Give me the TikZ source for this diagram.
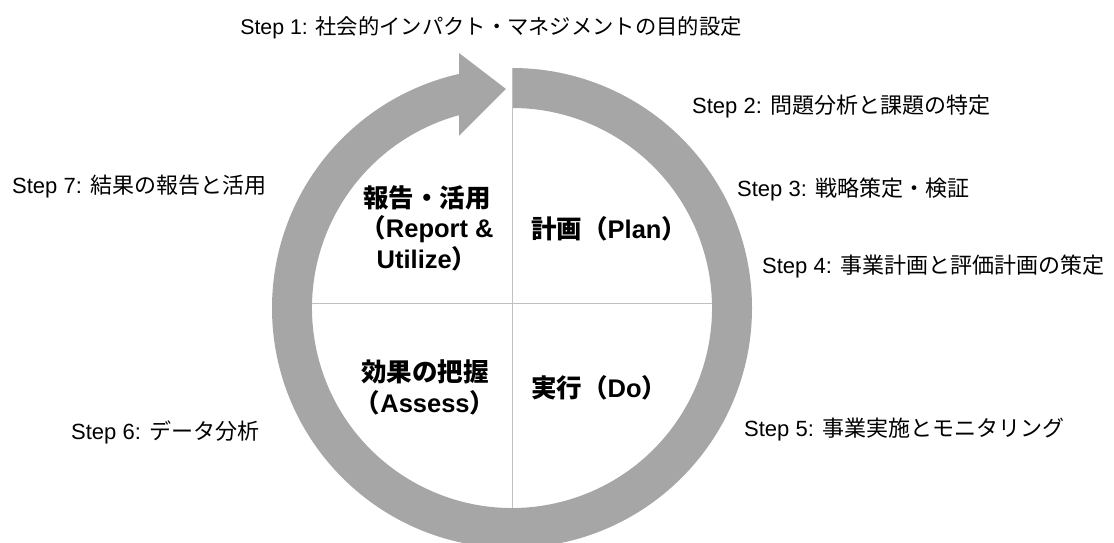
\documentclass[tikz,border=0pt]{standalone}
\usepackage{fontspec}
\setmainfont{Liberation Sans}
\newfontfamily\jp{Noto Sans CJK JP}
\usetikzlibrary{calc}
\definecolor{ringgray}{HTML}{A6A6A6}
\definecolor{divgray}{HTML}{C0C0C0}
\begin{document}
\begin{tikzpicture}[x=1pt,y=1pt,
  steplabel/.style={anchor=west, inner sep=0pt, font=\fontsize{22}{26}\selectfont},
  phase/.style={inner sep=0pt, align=center, font=\fontsize{25.5}{30.5}\selectfont\bfseries},
  divider/.style={draw=divgray, line width=1pt},
]
\useasboundingbox (0,0) rectangle (1114,543);
\coordinate (C) at (512,235);
\coordinate (vtop) at (512,475);
\coordinate (vbot) at (512,35);
\coordinate (hleft) at (312,239);
\coordinate (hright) at (712,239);

% cycle arrow ring
\fill[ringgray] (C) ++(90:240) arc[start angle=90, end angle=-257.24, radius=240]
  -- (459,490) -- (506,454) -- (459,407)
  -- ($(C)+(-254.63:200)$) arc[start angle=-254.63, end angle=90, radius=200] -- cycle;

% quadrant dividers
\draw[divider] (vtop) -- (vbot);
\draw[divider] (hleft) -- (hright);

% phases
\node[phase] (report) at (427,315) {{\jp 報告・活用}\\{\jp （}Report \&\\Utilize{\jp ）}};
\node[phase, anchor=west] (plan) at (531,314) {{\jp 計画（}Plan{\jp ）}};
\node[phase] (assess) at (425,155.5) {{\jp 効果の把握}\\{\jp （}Assess{\jp ）}};
\node[phase, anchor=west] (do) at (531,155) {{\jp 実行（}Do{\jp ）}};

% steps
\node[steplabel, anchor=center, font=\fontsize{21.3}{26}\selectfont] (s1) at (491,515) {Step 1: {\jp 社会的インパクト・マネジメントの目的設定}};
\node[steplabel] (s2) at (692,436) {Step 2: {\jp 問題分析と課題の特定}};
\node[steplabel] (s3) at (737,353) {Step 3: {\jp 戦略策定・検証}};
\node[steplabel] (s4) at (762,276) {Step 4: {\jp 事業計画と評価計画の策定}};
\node[steplabel] (s5) at (744,113) {Step 5: {\jp 事業実施とモニタリング}};
\node[steplabel] (s6) at (71,111) {Step 6: {\jp データ分析}};
\node[steplabel] (s7) at (12,356) {Step 7: {\jp 結果の報告と活用}};
\end{tikzpicture}
\end{document}
